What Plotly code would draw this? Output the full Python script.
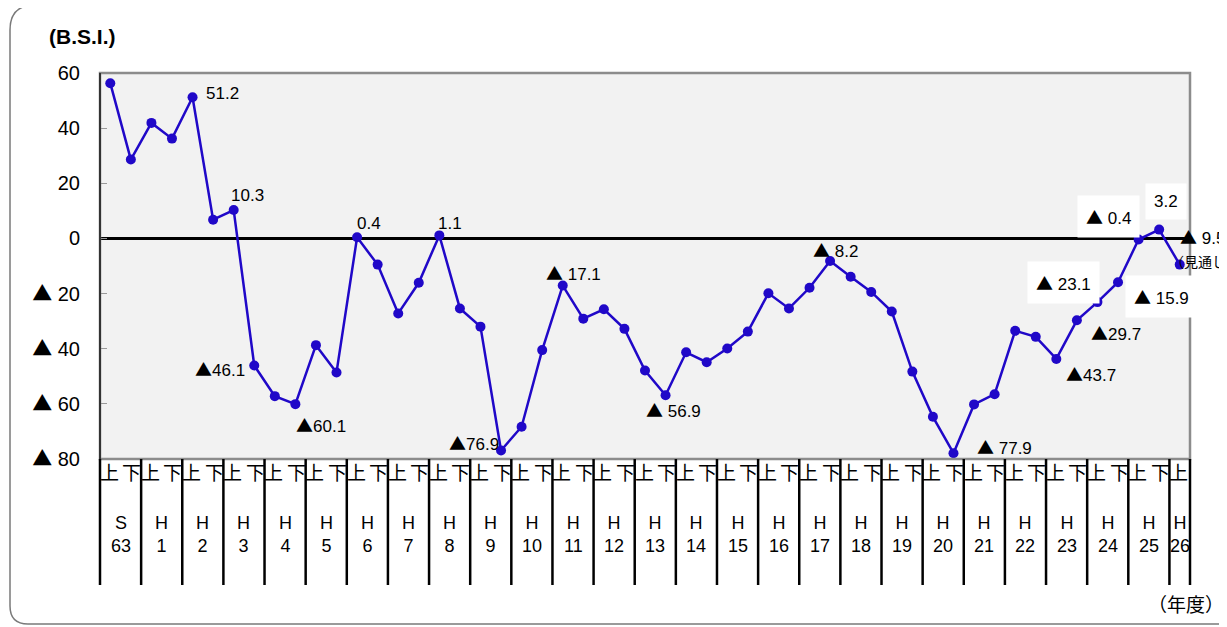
import plotly.graph_objects as go

# B.S.I. values per half year (上 / 下), S63上 .. H26上 (H26上 is the outlook)
years = ["S<br>63", "H<br>1", "H<br>2", "H<br>3", "H<br>4", "H<br>5", "H<br>6",
         "H<br>7", "H<br>8", "H<br>9", "H<br>10", "H<br>11", "H<br>12", "H<br>13",
         "H<br>14", "H<br>15", "H<br>16", "H<br>17", "H<br>18", "H<br>19", "H<br>20",
         "H<br>21", "H<br>22", "H<br>23", "H<br>24", "H<br>25", "H<br>26"]
halves_per_year = [2] * 26 + [1]
half_names = ["上", "下"]

bsi = [56.3, 28.6, 41.9, 36.2, 51.2, 6.8, 10.3, -46.1, -57.2, -60.1,
       -38.7, -48.6, 0.4, -9.5, -27.2, -16.1, 1.1, -25.4, -32.0, -76.9,
       -68.3, -40.5, -17.1, -29.1, -25.7, -32.8, -47.9, -56.9, -41.3, -44.9,
       -39.9, -33.8, -19.9, -25.4, -17.9, -8.2, -13.9, -19.4, -26.5, -48.3,
       -64.7, -77.9, -60.2, -56.5, -33.5, -35.7, -43.7, -29.7, -23.1, -15.9,
       -0.4, 3.2, -9.5]

y_ticks = [60, 40, 20, 0, -20, -40, -60, -80]

# labelled points: index -> (dx, dy, space after ▲, white box)
label_pos = {4: (30, -4, False, False), 6: (14, -15, False, False),
             7: (-34, 3, False, False), 9: (26, 20, False, False),
             12: (12, -14, False, False), 16: (11, -12, False, False),
             19: (-27, -8, False, False), 22: (11, -13, True, False),
             27: (8, 14, True, False), 35: (5, -12, True, False),
             41: (51, -7, True, False), 46: (35, 15, False, False),
             47: (39, 12, False, False), 48: (-34, -20, True, True),
             49: (43, 14, True, True), 50: (-30, -23, True, True),
             51: (7, -28, True, True)}

# the page puts the figure 8px in from the top-left corner
OFF = 8
W, H = 1227 - OFF, 627 - OFF
L, R, T, B = 100 - OFF, 37, 73 - OFF, 176 - OFF
PW, PH = W - L - R, H - T - B
FONT = "Liberation Sans, Noto Sans CJK JP, sans-serif"
CJK = "Noto Sans CJK JP"
TRI = "<span style=\"font-family:'Noto Sans CJK JP'\">▲</span>"
LINE = "#2008C8"


def fx(p):
    # reference-screen x pixel -> paper
    return (p - OFF - L) / PW


def fy(p):
    # reference-screen y pixel -> paper
    return (H - B - (p - OFF)) / PH


def fmt(v, space=False, digits=1):
    s = f"{abs(v):.{digits}f}"
    if v < 0:
        return TRI + (" " if space else "") + s
    return s


n = len(bsi)
xs = list(range(n))

fig = go.Figure()
fig.add_scatter(x=xs, y=bsi, mode="lines+markers", cliponaxis=False,
                line=dict(color=LINE, width=2.5),
                marker=dict(color=LINE, size=10))

tick_text = [fmt(v, True, 0) for v in y_ticks]

fig.update_layout(
    width=W, height=H, margin=dict(l=L, r=R, t=T, b=B),
    paper_bgcolor="white", plot_bgcolor="#F2F2F2",
    showlegend=False, font=dict(family=FONT, color="black"),
    xaxis=dict(range=[-0.5, n - 0.5], showgrid=False, zeroline=False,
               showticklabels=False, ticks=""),
    yaxis=dict(range=[-80, 60], tickvals=y_ticks, ticktext=tick_text,
               showgrid=False, zeroline=True, zerolinecolor="black",
               zerolinewidth=3, ticks="inside", ticklen=7, tickcolor="#999",
               tickfont=dict(size=20), ticklabelstandoff=19,
               showline=False),
)

shapes = []
# outer rounded frame
x0, x1, y0, y1 = fx(10), fx(1250), fy(5), fy(624)
rx, ry = 25 / PW, 25 / PH
rx2, ry2 = 18 / PW, 18 / PH
shapes.append(dict(type="path", xref="paper", yref="paper",
                   path=(f"M {x0} {y0 - ry} Q {x0} {y0} {x0 + rx} {y0} L {x1} {y0} "
                         f"L {x1} {y1} L {x0 + rx2} {y1} Q {x0} {y1} {x0} {y1 + ry2} Z"),
                   line=dict(color="#7A7A7A", width=1.5), layer="below"))
# plot border
shapes.append(dict(type="rect", xref="paper", yref="paper", x0=0, x1=1, y0=0, y1=1,
                   line=dict(color="#8C8C8C", width=2.5)))
shapes.append(dict(type="line", xref="paper", yref="paper", x0=0, x1=0, y0=0, y1=1,
                   line=dict(color="#333", width=2)))
# table of half years below the plot
bottom = fy(585)
pos = -0.5
bounds = [pos]
for h in halves_per_year:
    pos += h
    bounds.append(pos)
for b in bounds:
    xp = (b + 0.5) / n
    shapes.append(dict(type="line", xref="paper", yref="paper", x0=xp, x1=xp,
                       y0=0, y1=bottom, line=dict(color="black", width=2.5)))
fig.update_layout(shapes=shapes)

ann = []
idx = 0
for yr, h in zip(years, halves_per_year):
    for k in range(h):
        ann.append(dict(x=idx + k, y=fy(471), xref="x", yref="paper", text=half_names[k],
                        showarrow=False, yanchor="middle",
                        font=dict(family=CJK, size=19),
                        xshift=-1 if k == 0 else 1))
    xc = idx + (h - 1) / 2
    ann.append(dict(x=xc, y=fy(534), xref="x", yref="paper", text=yr, showarrow=False,
                    yanchor="middle", font=dict(size=18), align="center"))
    idx += h

for i, (dx, dy, sp, box) in label_pos.items():
    a = dict(x=xs[i], y=bsi[i], xref="x", yref="y", text=fmt(bsi[i], sp),
             showarrow=False, xshift=dx, yshift=-dy, font=dict(size=17))
    if box:
        a.update(bgcolor="white", borderpad=8)
    ann.append(a)

# outlook point label
last = n - 1
ann.append(dict(x=xs[last], y=0, xref="x", yref="y", text=fmt(bsi[last], True),
                showarrow=False, xanchor="left", yanchor="middle", xshift=-2, yshift=2,
                font=dict(size=17)))
ann.append(dict(x=xs[last], y=bsi[last], xref="x", yref="y", text="（見通し）",
                showarrow=False, xanchor="left", yanchor="middle", xshift=-12, yshift=4,
                font=dict(family=CJK, size=14)))

ann.append(dict(x=fx(47), y=fy(37), xref="paper", yref="paper", text="<b>(B.S.I.)</b>",
                showarrow=False, xanchor="left", yanchor="middle", font=dict(size=21)))
ann.append(dict(x=fx(1219), y=fy(603), xref="paper", yref="paper", text="（年度）",
                showarrow=False, xanchor="right", yanchor="middle", xshift=7,
                font=dict(family=CJK, size=19)))
fig.update_layout(annotations=ann)

fig.write_html("out.html")
